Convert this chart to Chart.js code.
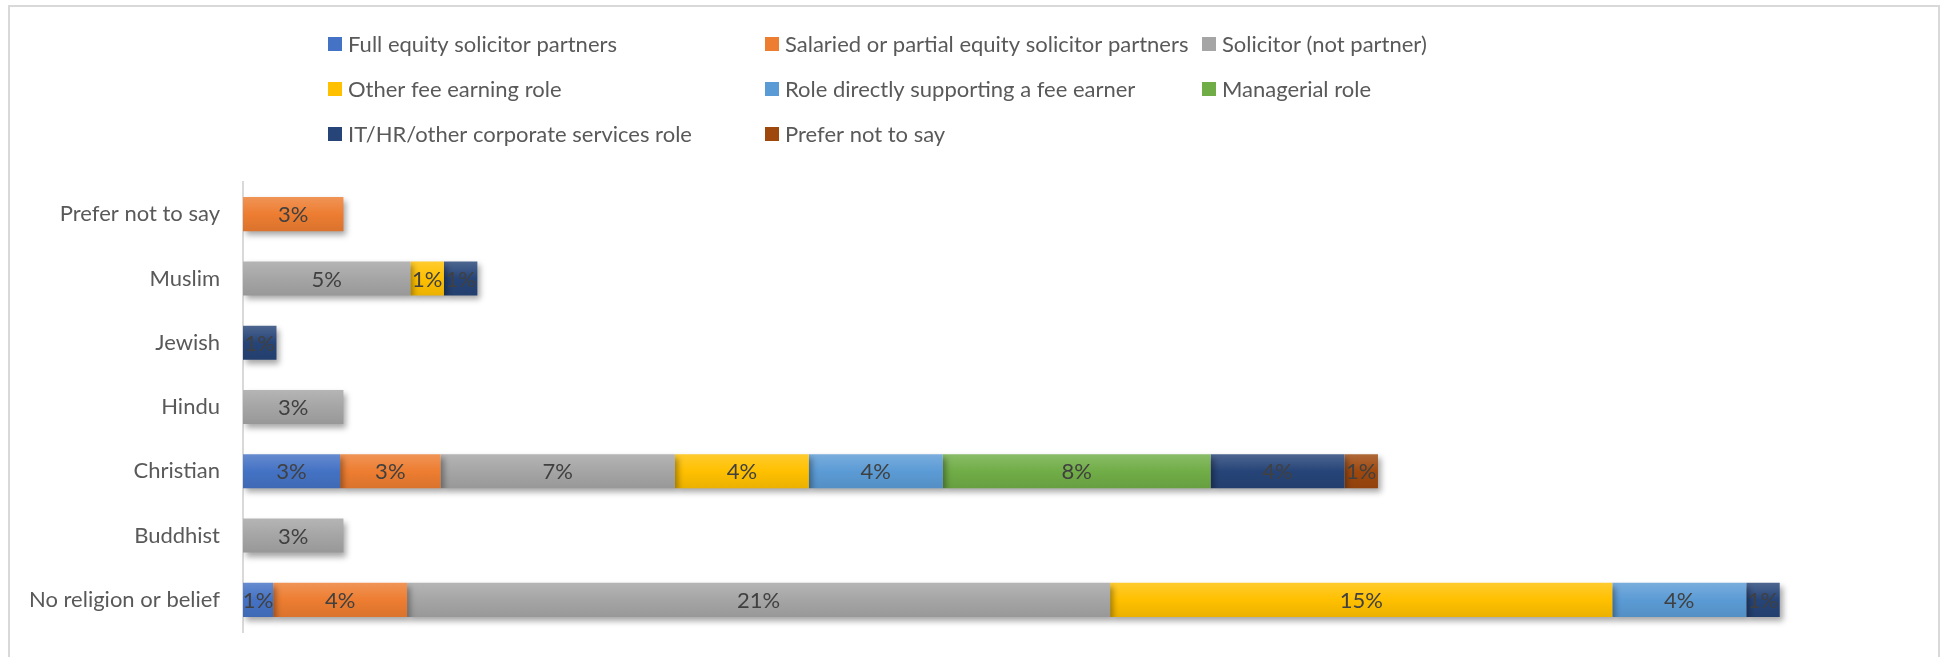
<!DOCTYPE html>
<html>
<head>
<meta charset="utf-8">
<script src="https://cdn.jsdelivr.net/npm/chart.js@4"></script>
<style>
  body { margin: 0; background: #fff; }
  #wrap { position: relative; width: 1951px; height: 657px; }
  #frame { position: absolute; left: 8px; top: 5px; width: 1932px; height: 700px; border: 2px solid #d9d9d9; box-sizing: border-box; }
</style>
</head>
<body>
<div id="wrap">
  <div id="frame"></div>
  <canvas id="myChart"></canvas>
</div>
<script>
// Religion categories, top to bottom
const categories = ['Prefer not to say', 'Muslim', 'Jewish', 'Hindu', 'Christian', 'Buddhist', 'No religion or belief'];

// Share of staff (%) per role, one array per series
const fullEquity   = [0, 0, 0, 0, 2.9, 0, 0.9];
const salaried     = [3, 0, 0, 0, 3, 0, 4];
const solicitor    = [0, 5, 0, 3, 7, 3, 21];
const otherFee     = [0, 1, 0, 0, 4, 0, 15];
const supportRole  = [0, 0, 0, 0, 4, 0, 4];
const managerial   = [0, 0, 0, 0, 8, 0, 0];
const corporate    = [0, 1, 1, 0, 4, 0, 1];
const preferNot    = [0, 0, 0, 0, 1, 0, 0];

const seriesNames = [
    'Full equity solicitor partners',
    'Salaried or partial equity solicitor partners',
    'Solicitor (not partner)',
    'Other fee earning role',
    'Role directly supporting a fee earner',
    'Managerial role',
    'IT/HR/other corporate services role',
    'Prefer not to say'
];
const seriesValues = [fullEquity, salaried, solicitor, otherFee, supportRole, managerial, corporate, preferNot];
const seriesColors = ['#4472C4', '#ED7D31', '#A5A5A5', '#FFC000', '#5B9BD5', '#70AD47', '#264478', '#9E480E'];

const FONT = 'Lato, "Noto Sans", sans-serif';
const FONT_SIZE = 22;

// lighten (amt > 0) or darken (amt < 0) a hex colour
function shade(hex, amt) {
    const n = parseInt(hex.slice(1), 16);
    let r = n >> 16, g = (n >> 8) & 255, b = n & 255;
    const f = c => Math.round(amt > 0 ? c + (255 - c) * amt : c * (1 + amt));
    return `rgb(${f(r)}, ${f(g)}, ${f(b)})`;
}

// vertical gradient per bar, like the Office style
function barFill(base) {
    return function (context) {
        const chart = context.chart;
        const yScale = chart.scales.y;
        if (!yScale || !chart.chartArea || context.dataIndex === undefined) return base;
        const y = yScale.getPixelForValue(context.dataIndex);
        if (!isFinite(y)) return base;
        const half = 17;
        const g = chart.ctx.createLinearGradient(0, y - half, 0, y + half);
        g.addColorStop(0, shade(base, 0.18));
        g.addColorStop(0.5, base);
        g.addColorStop(1, shade(base, -0.08));
        return g;
    };
}

// soft shadow under the bars
const shadowPlugin = {
    id: 'barShadow',
    beforeDatasetsDraw(chart) {
        const ctx = chart.ctx;
        ctx.save();
        ctx.shadowColor = 'rgba(0, 0, 0, 0.35)';
        ctx.shadowBlur = 6;
        ctx.shadowOffsetX = 3;
        ctx.shadowOffsetY = 4;
    },
    afterDatasetsDraw(chart) {
        chart.ctx.restore();
    }
};

// percentage labels in the middle of each segment
const valueLabels = {
    id: 'valueLabels',
    afterDatasetsDraw(chart) {
        const ctx = chart.ctx;
        ctx.save();
        ctx.font = FONT_SIZE + 'px ' + FONT;
        ctx.fillStyle = '#404040';
        ctx.textAlign = 'center';
        ctx.textBaseline = 'middle';
        chart.data.datasets.forEach((ds, i) => {
            const meta = chart.getDatasetMeta(i);
            meta.data.forEach((bar, j) => {
                const v = ds.data[j];
                if (!v) return;
                const p = bar.getProps(['x', 'base', 'y'], true);
                ctx.fillText(Math.round(v) + '%', (p.x + p.base) / 2, p.y + 1);
            });
        });
        ctx.restore();
    }
};

// legend laid out as a 3 column grid
const gridLegend = {
    id: 'gridLegend',
    afterDraw(chart) {
        const ctx = chart.ctx;
        const startX = 328, colW = 437, startY = 44, rowH = 45, box = 14;
        ctx.save();
        ctx.font = FONT_SIZE + 'px ' + FONT;
        ctx.textBaseline = 'middle';
        chart.data.datasets.forEach((ds, i) => {
            const x = startX + (i % 3) * colW;
            const y = startY + Math.floor(i / 3) * rowH;
            ctx.fillStyle = seriesColors[i];
            ctx.fillRect(x, y - box / 2, box, box);
            ctx.fillStyle = '#595959';
            ctx.fillText(ds.label, x + 20, y + 1);
        });
        ctx.restore();
    }
};

const ctx = document.getElementById('myChart').getContext('2d');
const myChart = new Chart(ctx, {
    type: 'bar',
    data: {
        labels: categories,
        datasets: seriesNames.map((name, i) => ({
            label: name,
            data: seriesValues[i],
            backgroundColor: barFill(seriesColors[i]),
            borderWidth: 0,
            barPercentage: 0.53,
            categoryPercentage: 1
        }))
    },
    options: {
        indexAxis: 'y',
        responsive: true,
        maintainAspectRatio: false,
        animation: false,
        layout: { padding: { top: 182, bottom: 25, right: 34, left: 0 } },
        plugins: {
            legend: { display: false },
            tooltip: { enabled: false }
        },
        scales: {
            x: {
                stacked: true,
                display: false,
                min: 0,
                max: 50
            },
            y: {
                stacked: true,
                afterFit: s => {
                    s.width = 243;
                    s.paddingTop = 0;
                    s.paddingBottom = 0;
                },
                grid: { display: false, drawTicks: false },
                border: { display: true, color: '#d9d9d9', width: 2 },
                ticks: {
                    padding: 23,
                    color: '#595959',
                    font: { family: FONT, size: FONT_SIZE }
                }
            }
        }
    },
    plugins: [shadowPlugin, valueLabels, gridLegend]
});
</script>
</body>
</html>
